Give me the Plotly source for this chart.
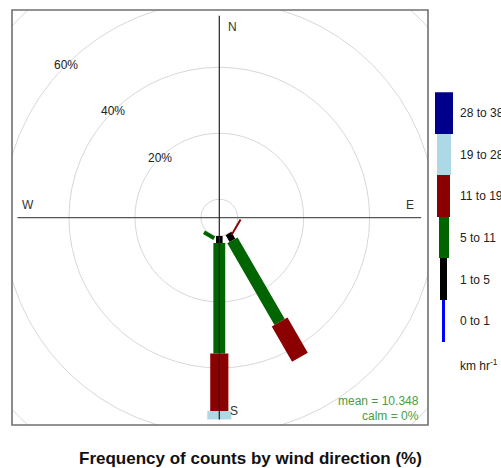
import math
import plotly.graph_objects as go

# ---------------- data ----------------
directions = [120, 150, 180, 210]          # wind direction (degrees)
bin_labels = ["0 to 1", "1 to 5", "5 to 11", "11 to 19", "19 to 28", "28 to 38"]
freq_0_1 = [0.0, 0.0, 0.0, 0.0]
freq_1_5 = [0.0, 2.4, 2.1, 0.0]
freq_5_11 = [0.0, 28.6, 33.5, 1.2]
freq_11_19 = [0.6, 12.3, 17.5, 0.0]
freq_19_28 = [0.0, 0.0, 2.5, 0.0]
freq_28_38 = [0.0, 0.0, 0.0, 0.0]
grid_levels = [20, 40, 60, 80]
grid_labels = ["20%", "40%", "60%"]
compass = ["N", "E", "S", "W"]
mean_text = "mean = 10.348"
calm_text = "calm = 0%"
units_text = "km hr<sup>-1</sup>"
title_text = "Frequency of counts by wind direction (%)"

# ---------------- styles ----------------
colors = ["#0000ff", "#000000", "#006400", "#8b0000", "#add8e6", "#00008b"]
half_widths = [0.35, 1.0, 1.8, 2.75, 3.65, 4.5]   # paddle half-width (plot units)
legend_widths = [0.2, 0.49, 0.72, 0.92, 1.02, 1.28]
FONT = "Arial, 'Liberation Sans', sans-serif"
W, H = 501, 468
PX = 3.3                      # pixels per percent unit
CX, CY = 219.3, 217.6         # centre of rose, in pixels
BOX = (12, 10, 428, 425)      # panel left, top, right, bottom in px

series = [freq_0_1, freq_1_5, freq_5_11, freq_11_19, freq_19_28, freq_28_38]
totals = [sum(s[j] for s in series) for j in range(len(directions))]
max_total = max(totals)
off = 0.1 * max_total
mymax = off + max_total

fig = go.Figure()

# paddles
for i, s in enumerate(series):
    xs, ys = [], []
    for j, d in enumerate(directions):
        f = s[j]
        if f <= 0:
            continue
        before = sum(series[k][j] for k in range(i))
        l1 = off + before
        l2 = off + before + f
        th = math.radians(d)
        ux, uy = math.sin(th), math.cos(th)
        vx, vy = math.cos(th), -math.sin(th)
        w = half_widths[i]
        pts = [(l1 * ux - w * vx, l1 * uy - w * vy),
               (l1 * ux + w * vx, l1 * uy + w * vy),
               (l2 * ux + w * vx, l2 * uy + w * vy),
               (l2 * ux - w * vx, l2 * uy - w * vy),
               (l1 * ux - w * vx, l1 * uy - w * vy)]
        xs += [p[0] for p in pts] + [None]
        ys += [p[1] for p in pts] + [None]
    if xs:
        fig.add_trace(go.Scatter(x=xs, y=ys, mode="lines", fill="toself",
                                 fillcolor=colors[i], line=dict(width=0, color=colors[i]),
                                 hoverinfo="skip", showlegend=False,
                                 xaxis="x", yaxis="y"))

# legend key (bars on a second axis)
fig.add_trace(go.Bar(x=[0] * len(bin_labels), y=[1] * len(bin_labels),
                     base=list(range(len(bin_labels))), width=legend_widths,
                     marker=dict(color=colors, line=dict(width=0)),
                     xaxis="x2", yaxis="y2", showlegend=False, hoverinfo="skip"))

# grid circles
for g in grid_levels:
    r = off + g
    fig.add_shape(type="circle", xref="x", yref="y", x0=-r, y0=-r, x1=r, y1=r,
                  line=dict(color="#d8d8d8", width=1), layer="below")
fig.add_shape(type="circle", xref="x", yref="y", x0=-off, y0=-off, x1=off, y1=off,
              line=dict(color="#d8d8d8", width=1), layer="below")

# axes cross
fig.add_shape(type="line", xref="x", yref="y", x0=-mymax, y0=0, x1=mymax, y1=0,
              line=dict(color="#555555", width=1.2), layer="above")
fig.add_shape(type="line", xref="x", yref="y", x0=0, y0=-mymax, x1=0, y1=mymax,
              line=dict(color="#222222", width=1.2), layer="above")

# panel box
fig.add_shape(type="rect", xref="x domain", yref="y domain", x0=0, y0=0, x1=1, y1=1,
              line=dict(color="#707070", width=1.6), layer="above")

ann = []
# percentage labels along 315 degrees
for g, lab in zip(grid_levels, grid_labels):
    r = off + g
    ann.append(dict(x=-r * math.sin(math.radians(45)), y=r * math.cos(math.radians(45)),
                    xref="x", yref="y", text=lab, showarrow=False,
                    font=dict(size=12, color="#222222", family=FONT)))
# compass labels
cpos = {"N": (4.1, 57.9), "E": (57.7, 3.9), "S": (4.4, -58.5), "W": (-58.0, 3.9)}
for c in compass:
    ann.append(dict(x=cpos[c][0], y=cpos[c][1], xref="x", yref="y", text=c,
                    showarrow=False, font=dict(size=12, color="#333333", family=FONT)))
# mean / calm
ann.append(dict(x=421 / W, y=1 - 401 / H, xref="paper", yref="paper", text=mean_text,
                xanchor="right", yanchor="middle", showarrow=False,
                font=dict(size=12, color="#45a045", family=FONT)))
ann.append(dict(x=421 / W, y=1 - 416 / H, xref="paper", yref="paper", text=calm_text,
                xanchor="right", yanchor="middle", showarrow=False,
                font=dict(size=12, color="#45a045", family=FONT)))
# legend labels
for i, lab in enumerate(bin_labels):
    ann.append(dict(x=458 / W, y=i + 0.5, xref="paper", yref="y2", text=lab,
                    xanchor="left", yanchor="middle", showarrow=False,
                    font=dict(size=12, color="#222222", family=FONT)))
ann.append(dict(x=458 / W, y=1 - 365 / H, xref="paper", yref="paper", text=units_text,
                xanchor="left", yanchor="middle", showarrow=False,
                font=dict(size=12, color="#222222", family=FONT)))
# title
ann.append(dict(x=250 / W, y=1 - 458 / H, xref="paper", yref="paper", text=title_text,
                xanchor="center", yanchor="middle", showarrow=False,
                font=dict(size=17, color="#111111", family=FONT, weight="bold")))

x0px, y0px, x1px, y1px = BOX
fig.update_layout(
    width=W, height=H, margin=dict(l=0, r=0, t=0, b=0),
    paper_bgcolor="white", plot_bgcolor="white", showlegend=False,
    annotations=ann,
    xaxis=dict(domain=[x0px / W, x1px / W],
               range=[-(CX - x0px) / PX, (x1px - CX) / PX],
               visible=False, fixedrange=True),
    yaxis=dict(domain=[1 - y1px / H, 1 - y0px / H],
               range=[-(y1px - CY) / PX, (CY - y0px) / PX],
               visible=False, fixedrange=True),
    xaxis2=dict(domain=[430 / W, 457.6 / W], range=[-1, 1], visible=False,
                anchor="y2", fixedrange=True),
    yaxis2=dict(domain=[1 - 342 / H, 1 - 92.3 / H], range=[0, len(bin_labels)],
                visible=False, anchor="x2", fixedrange=True),
    bargap=0,
)

fig.write_html("out.html", config={"displayModeBar": False},
               post_script="document.body.style.margin='0px';document.body.style.overflow='hidden';")
